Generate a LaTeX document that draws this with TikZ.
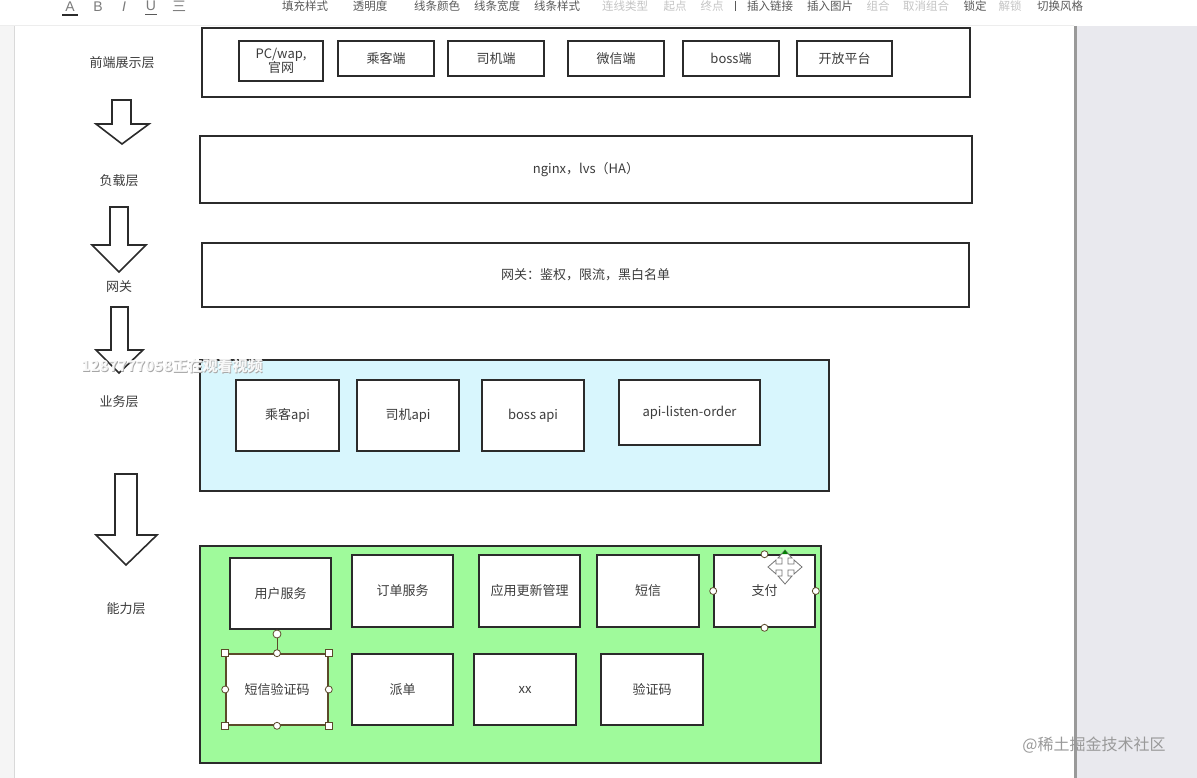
\documentclass[tikz,border=0pt]{standalone}
\usepackage{fontspec}
\setmainfont{Noto Sans CJK SC}
\newfontfamily\latinfont{Liberation Sans}
\definecolor{boxline}{HTML}{2B2B2B}
\definecolor{txt}{HTML}{3C3C3C}
\definecolor{cyanfill}{HTML}{D8F6FD}
\definecolor{greenfill}{HTML}{9FFA9B}
\definecolor{panel}{HTML}{E9E9EE}
\definecolor{tool}{HTML}{5A5A5A}
\definecolor{toollight}{HTML}{C4C4C4}
\definecolor{selline}{HTML}{5B4A2A}
\begin{document}
\begin{tikzpicture}[x=1pt,y=-1pt,
  layer/.style={draw=boxline, line width=1.8pt, inner sep=0pt},
  box/.style={draw=boxline, line width=1.6pt, fill=white, inner sep=0pt, align=center,
    font=\fontsize{13}{15}\selectfont, text=txt},
  lbl/.style={font=\fontsize{13}{15}\selectfont, text=txt, inner sep=0pt},
  blockarrow/.style={draw=boxline, line width=1.6pt, fill=white, line join=miter},
  toolitem/.style={font=\fontsize{11.5}{13}\selectfont, text=tool, inner sep=0pt},
  toolgray/.style={font=\fontsize{11.5}{13}\selectfont, text=toollight, inner sep=0pt},
  toolicon/.style={font=\latinfont\fontsize{14}{14}\selectfont, text=tool!80, inner sep=0pt},
  handle/.style={draw=selline, line width=0.8pt, fill=white},
]
\useasboundingbox (0,0) rectangle (1197,778);
\fill[white] (0,0) rectangle (1197,778);
% editor frame
\fill[black!4] (0,26) rectangle (14,778);
\draw[black!15, line width=0.8pt] (14,26) -- (14,778);
\draw[black!7, line width=0.8pt] (0,25.5) -- (1074,25.5);
\fill[panel] (1075,26) rectangle (1197,778);
\draw[black!40, line width=2.5pt] (1075.5,26) -- (1075.5,778);

% toolbar
\node[toolicon] (tA) at (70,6.5) {A};
\draw[boxline, line width=2pt] (62,15) -- (78,15);
\node[toolicon] (tB) at (98,6.5) {B};
\node[toolicon, font=\latinfont\itshape\fontsize{14}{14}\selectfont] (tI) at (124,6.5) {I};
\node[toolicon] (tU) at (151,6) {U};
\draw[tool, line width=0.8pt] (145,14) -- (157,14);
\node[toolicon, font=\fontsize{14}{14}\selectfont] (tL) at (179,6.5) {三};
\node[toolitem] (t1) at (305,6) {填充样式};
\node[toolitem] (t2) at (370,6) {透明度};
\node[toolitem] (t3) at (437,6) {线条颜色};
\node[toolitem] (t4) at (497,6) {线条宽度};
\node[toolitem] (t5) at (557,6) {线条样式};
\node[toolgray] (t6) at (625,6) {连线类型};
\node[toolgray] (t7) at (675,6) {起点};
\node[toolgray] (t8) at (712,6) {终点};
\draw[tool, line width=0.6pt] (735,1) -- (735,11);
\node[toolitem] (t9) at (770,6) {插入链接};
\node[toolitem] (t10) at (830,6) {插入图片};
\node[toolgray] (t11) at (878,6) {组合};
\node[toolgray] (t12) at (926,6) {取消组合};
\node[toolitem] (t13) at (975,6) {锁定};
\node[toolgray] (t14) at (1010,6) {解锁};
\node[toolitem] (t15) at (1060,6) {切换风格};

% left labels
\node[lbl] (l1) at (122,63) {前端展示层};
\node[lbl] (l2) at (119,181) {负载层};
\node[lbl] (l3) at (119,287) {网关};
\node[lbl] (l4) at (119,402) {业务层};
\node[lbl] (l5) at (126,609) {能力层};

% block arrows
\draw[blockarrow] (112,100) -- (131,100) -- (131,124) -- (149,124) -- (122,144) -- (96,124) -- (112,124) -- cycle;
\draw[blockarrow] (110,207) -- (128,207) -- (128,245) -- (146,245) -- (119,272) -- (92,245) -- (110,245) -- cycle;
\draw[blockarrow] (111,307) -- (128,307) -- (128,350) -- (143,350) -- (119,373) -- (96,350) -- (111,350) -- cycle;
\draw[blockarrow] (115,474) -- (137,474) -- (137,535) -- (157,535) -- (126,565) -- (96,535) -- (115,535) -- cycle;

% front-end layer
\node[layer, fill=white, minimum width=768pt, minimum height=69pt] (front) at (586,62.5) {};
\node[box, minimum width=84pt, minimum height=40pt] (pc) at (281,61) {PC/wap,\\[-1pt]官网};
\node[box, minimum width=96pt, minimum height=35pt] (pass) at (386,58.5) {乘客端};
\node[box, minimum width=96pt, minimum height=35pt] (drv) at (496,58.5) {司机端};
\node[box, minimum width=96pt, minimum height=35pt] (wx) at (616,58.5) {微信端};
\node[box, minimum width=96pt, minimum height=35pt] (boss) at (731,58.5) {boss端};
\node[box, minimum width=95pt, minimum height=35pt] (open) at (844.5,58.5) {开放平台};

% load layer
\node[layer, fill=white, minimum width=772pt, minimum height=67pt, lbl] (load) at (586,169.5) {nginx，lvs（HA）};
% gateway
\node[layer, fill=white, minimum width=767pt, minimum height=64pt, lbl] (gw) at (585.5,275) {网关：鉴权，限流，黑白名单};

% business layer
\node[layer, fill=cyanfill, minimum width=629pt, minimum height=131pt] (biz) at (514.5,425.5) {};
\node[box, minimum width=103pt, minimum height=71pt] (papi) at (287.5,415.5) {乘客api};
\node[box, minimum width=102pt, minimum height=71pt] (dapi) at (408,415.5) {司机api};
\node[box, minimum width=102pt, minimum height=71pt] (bapi) at (533,415.5) {boss api};
\node[box, minimum width=141pt, minimum height=65pt] (lapi) at (689.5,412.5) {api-listen-order};

% ability layer
\node[layer, fill=greenfill, minimum width=621pt, minimum height=217pt] (abl) at (510.5,654.5) {};
\node[box, minimum width=101pt, minimum height=71pt] (user) at (280.5,593.5) {用户服务};
\node[box, minimum width=101pt, minimum height=72pt] (order) at (402.5,591) {订单服务};
\node[box, minimum width=101pt, minimum height=72pt] (upd) at (529.5,591) {应用更新管理};
\node[box, minimum width=102pt, minimum height=72pt] (sms) at (648,591) {短信};
\node[box, minimum width=101pt, minimum height=72pt] (pay) at (764.5,591) {支付};
\node[box, draw=selline, minimum width=102pt, minimum height=71pt] (code) at (277,689.5) {短信验证码};
\node[box, minimum width=101pt, minimum height=71pt] (disp) at (402.5,689.5) {派单};
\node[box, minimum width=102pt, minimum height=71pt] (xx) at (525,689.5) {xx};
\node[box, minimum width=102pt, minimum height=71pt] (vcode) at (652,689.5) {验证码};

% selection handles on 短信验证码
\coordinate (rot) at (277,634);
\draw[selline, line width=0.8pt] (code.north) -- (rot);
\draw[handle] (rot) circle (4);
\foreach \a in {north west, north east, south west, south east}
  \draw[handle] ([xshift=-3.5pt,yshift=-3.5pt]code.\a) rectangle ([xshift=3.5pt,yshift=3.5pt]code.\a);
\foreach \a in {north, south, west, east}
  \draw[handle] (code.\a) circle (3.5);
% selection handles on 支付
\foreach \a in {north, south, west, east}
  \draw[handle] (pay.\a) circle (3.5);
% move cursor
\coordinate (mv) at (785,567);
\draw[black!55, fill=white, line width=0.8pt, line join=miter, shift={(mv)}]
  (-3,-3) -- (-3,-9) -- (-7,-9) -- (0,-17) -- (7,-9) -- (3,-9) -- (3,-3)
  -- (9,-3) -- (9,-7) -- (17,0) -- (9,7) -- (9,3) -- (3,3)
  -- (3,9) -- (7,9) -- (0,17) -- (-7,9) -- (-3,9) -- (-3,3)
  -- (-9,3) -- (-9,7) -- (-17,0) -- (-9,-7) -- (-9,-3) -- cycle;
\fill[green!50!black, shift={(mv)}] (-3,-13) -- (0,-17) -- (3,-13) -- cycle;

% overlays
\node[font=\bfseries\fontsize{15}{15}\selectfont, text=black!35, inner sep=0pt] (wm1s) at (172.8,366.8) {1287777058正在观看视频};
\node[font=\bfseries\fontsize{15}{15}\selectfont, text=white, opacity=0.9, inner sep=0pt] (wm1) at (172,366) {1287777058正在观看视频};
\node[font=\fontsize{16}{16}\selectfont, text=black!40, inner sep=0pt] (wm2) at (1094,745) {@稀土掘金技术社区};
\end{tikzpicture}
\end{document}
